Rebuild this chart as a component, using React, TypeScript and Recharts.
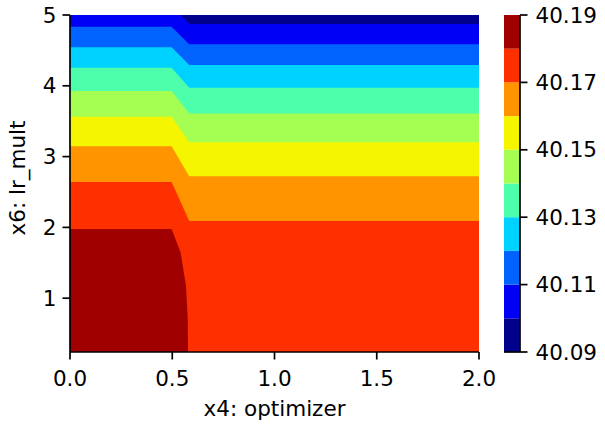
import React from "react";
import { ComposedChart, Area, BarChart, Bar, XAxis, YAxis, Label } from "recharts";

// x4: optimizer positions where the contour edges were read
const optimizer = [0, 0.497, 0.541, 0.567, 0.576, 0.577, 0.583, 2];

// x6: lr_mult of each contour line (edge between two filled levels)
const contourTop = [5, null, null, null, null, null, null, 5];
const contour40_10 = [5, 5, 5, null, null, null, 4.873, 4.873];
const contour40_11 = [4.835, 4.835, null, null, null, null, 4.586, 4.586];
const contour40_12 = [4.543, 4.543, null, null, null, null, 4.293, 4.293];
const contour40_13 = [4.255, 4.255, null, null, null, null, 3.972, 3.972];
const contour40_14 = [3.925, 3.925, null, null, null, null, 3.61, 3.61];
const contour40_15 = [3.562, 3.562, null, null, null, null, 3.204, 3.204];
const contour40_16 = [3.147, 3.147, null, null, null, null, 2.723, 2.723];
const contour40_17 = [2.642, 2.642, null, null, null, null, 2.091, 2.091];
const contour40_18 = [1.977, 1.977, 1.644, 1.174, 0.704, 0.24, null, null];

const levels = [40.09, 40.1, 40.11, 40.12, 40.13, 40.14, 40.15, 40.16, 40.17, 40.18, 40.19];
const colorbarTicks = [40.09, 40.11, 40.13, 40.15, 40.17, 40.19];
const xTicks = [0, 0.5, 1, 1.5, 2];
const yTicks = [1, 2, 3, 4, 5];

const bandColors = [
  "#00008c", "#0000f5", "#0062ff", "#00d2ff", "#4dffaa",
  "#a4ff52", "#f5f500", "#ff9400", "#ff3000", "#a00000",
];

const contours = [
  contourTop, contour40_10, contour40_11, contour40_12, contour40_13,
  contour40_14, contour40_15, contour40_16, contour40_17, contour40_18,
];

const rows = optimizer.map((x, i) => {
  const row: Record<string, number | null> = { x };
  contours.forEach((c, k) => {
    row[`c${k}`] = c[i];
  });
  return row;
});

const colorbarRow: Record<string, number | string> = { name: "z", base: levels[0] };
levels.slice(1).forEach((lv, i) => {
  colorbarRow[`s${i}`] = lv - levels[i];
});

const font = "DejaVu Sans";
const fontSize = 21.5;
const black = "#000";
const line = { stroke: black, strokeWidth: 1.7 };
const tickStyle = { fill: black, fontSize, fontFamily: font };

const YLabel = (props: any) => {
  const { x, y, height } = props.viewBox;
  const cx = x + 17;
  const cy = y + height / 2 - 5.5;
  return (
    <text
      x={cx}
      y={cy}
      transform={`rotate(-90, ${cx}, ${cy})`}
      textAnchor="middle"
      dominantBaseline="central"
      fill={black}
      fontSize={fontSize}
      fontFamily={font}
    >
      x6: lr_mult
    </text>
  );
};

const App: React.FC = () => {
  return (
    <div style={{ position: "absolute", left: 0, top: 0, width: 605, height: 427, background: "#fff" }}>
      <div style={{ position: "absolute", left: 0, top: 0 }}>
        <ComposedChart width={500} height={427} data={rows} margin={{ top: 15, right: 21, bottom: 0, left: 0 }}>
          <XAxis
            type="number"
            dataKey="x"
            domain={[0, 2]}
            ticks={xTicks}
            tickFormatter={(v: number) => v.toFixed(1)}
            allowDataOverflow
            height={75}
            axisLine={line}
            tickLine={line}
            tickSize={7.5}
            tickMargin={11}
            tick={tickStyle}
          >
            <Label value="x4: optimizer" position="insideBottom" offset={11} fill={black} fontSize={fontSize} fontFamily={font} />
          </XAxis>
          <YAxis
            type="number"
            domain={[0.24, 5]}
            ticks={yTicks}
            allowDataOverflow
            width={70}
            axisLine={line}
            tickLine={line}
            tickSize={7.5}
            tickMargin={6}
            tick={tickStyle}
          >
            <Label content={<YLabel />} />
          </YAxis>
          <XAxis xAxisId="frame" orientation="top" type="number" domain={[0, 2]} height={0} tick={false} tickLine={false} axisLine={line} />
          <YAxis yAxisId="frame" orientation="right" type="number" domain={[0.24, 5]} width={0} tick={false} tickLine={false} axisLine={line} />
          {contours.map((c, k) => (
            <Area
              key={k}
              dataKey={`c${k}`}
              type="linear"
              fill={bandColors[k]}
              fillOpacity={1}
              stroke="none"
              connectNulls={k !== contours.length - 1}
              dot={false}
              activeDot={false}
              isAnimationActive={false}
            />
          ))}
        </ComposedChart>
      </div>
      <div style={{ position: "absolute", left: 504, top: 0 }}>
        <BarChart width={101} height={427} data={[colorbarRow]} barCategoryGap={0} margin={{ top: 15, right: 0, bottom: 0, left: 0 }}>
          <XAxis dataKey="name" height={75} tick={false} tickLine={false} axisLine={line} />
          <XAxis xAxisId="frame" dataKey="name" orientation="top" height={0} tick={false} tickLine={false} axisLine={line} />
          <YAxis
            orientation="right"
            type="number"
            domain={[levels[0], levels[levels.length - 1]]}
            ticks={colorbarTicks}
            tickFormatter={(v: number) => v.toFixed(2)}
            allowDataOverflow
            width={85}
            axisLine={line}
            tickLine={line}
            tickSize={7.5}
            tickMargin={8}
            tick={tickStyle}
          />
          <YAxis yAxisId="frame" orientation="left" type="number" domain={[0, 1]} width={0} tick={false} tickLine={false} axisLine={line} />
          <Bar dataKey="base" stackId="cb" fillOpacity={0} isAnimationActive={false} />
          {bandColors.map((color, i) => (
            <Bar key={i} dataKey={`s${i}`} stackId="cb" fill={color} isAnimationActive={false} />
          ))}
        </BarChart>
      </div>
    </div>
  );
};

export default App;
